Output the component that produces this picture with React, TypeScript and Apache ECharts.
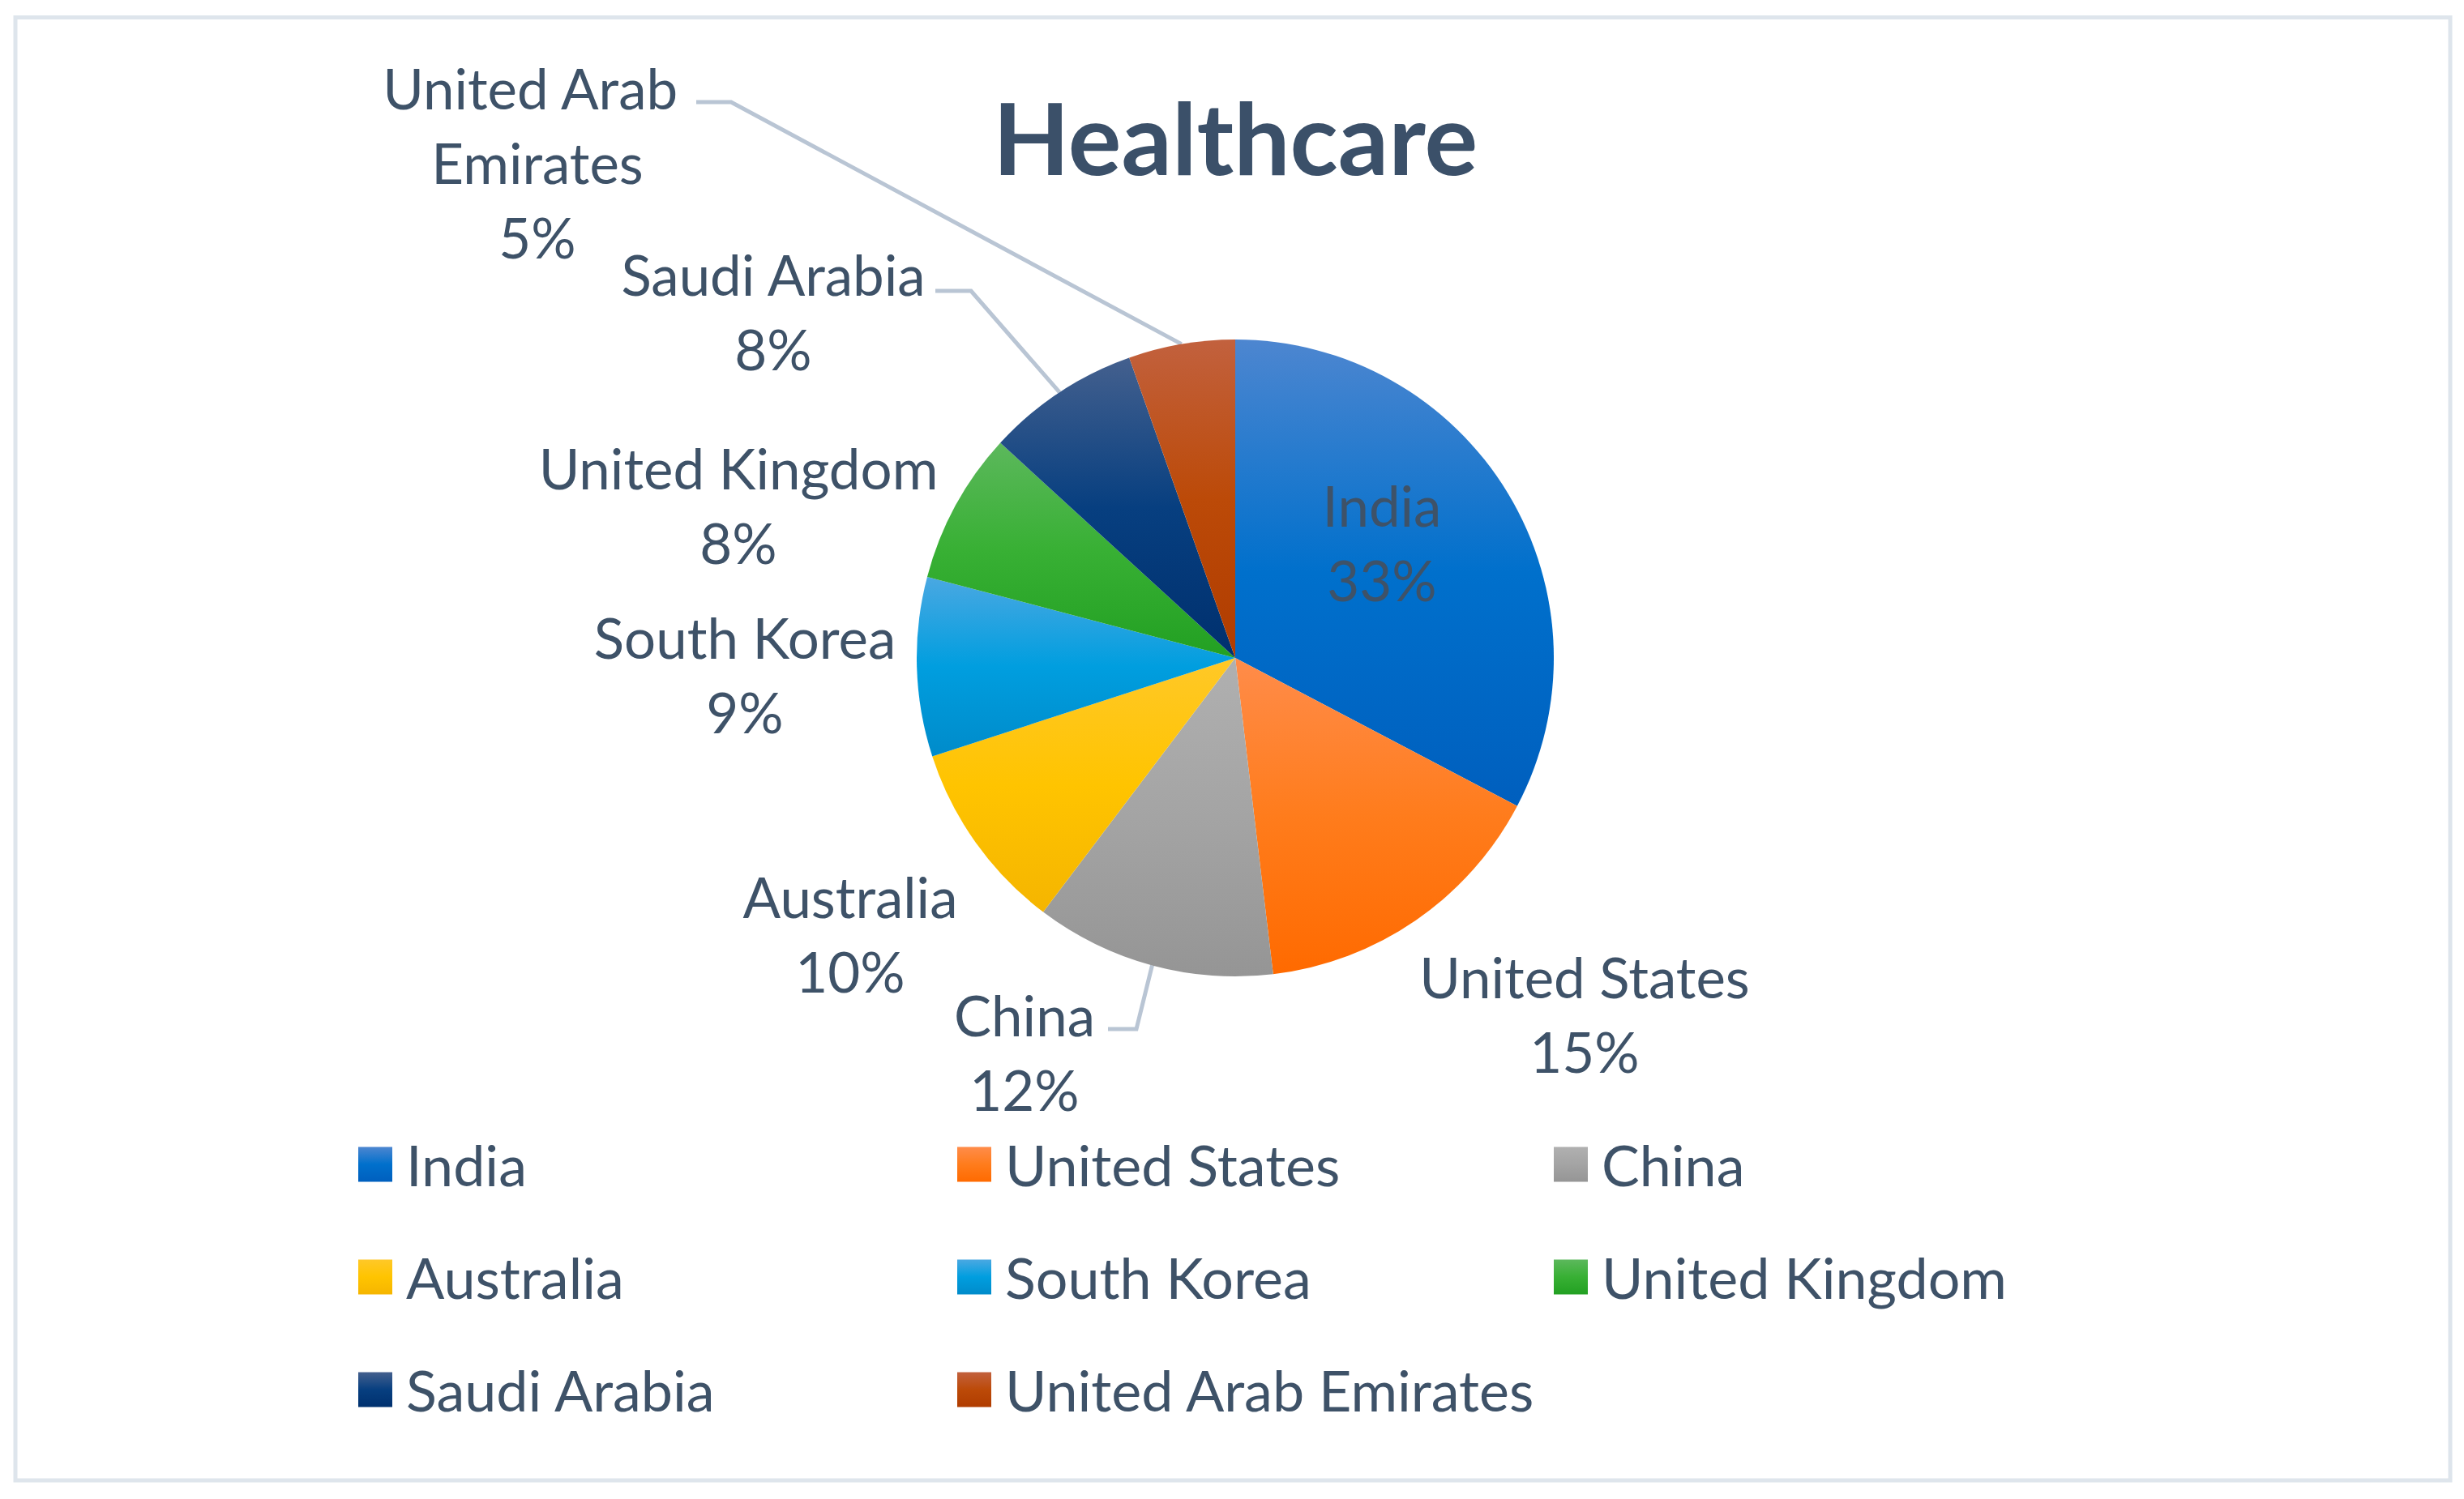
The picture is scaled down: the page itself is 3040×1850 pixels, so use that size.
import React, { useEffect, useRef } from "react";
import * as echarts from "echarts";

// ---------- data ----------
const categories = [
  "India",
  "United States",
  "China",
  "Australia",
  "South Korea",
  "United Kingdom",
  "Saudi Arabia",
  "United Arab Emirates",
];
const shares = [32.7, 15.4, 12.2, 9.7, 9.1, 7.7, 7.8, 5.4];
const legendColumns = [
  ["India", "Australia", "Saudi Arabia"],
  ["United States", "South Korea", "United Arab Emirates"],
  ["China", "United Kingdom"],
];
const titleText = "Healthcare";

// ---------- styles / layout ----------
const W = 3040;
const H = 1850;
const CX = 1524;
const CY = 812;
const R = 393;
const FONT = "Lato";
const TEXT_COLOR = "#3e5268";
const LEADER_COLOR = "#b9c5d4";

// light / base / dark gradient stops per slice
const sliceColors = [
  ["#4d86d0", "#0070cc", "#005fbe"],
  ["#ff8c4a", "#ff7c1c", "#ff6a00"],
  ["#b0b0b0", "#a4a4a4", "#959595"],
  ["#ffc828", "#ffc400", "#f5b500"],
  ["#4aa8e2", "#009edf", "#008bca"],
  ["#5cb85c", "#38b034", "#22a022"],
  ["#44608e", "#073f80", "#00306e"],
  ["#c2613e", "#bc4a08", "#b03c00"],
];

// label block centres
const labelPos: [number, number][] = [
  [1705, 669],
  [1955, 1251],
  [1264, 1298],
  [1049, 1152],
  [919, 832],
  [911, 623],
  [954, 384],
  [663, 200],
];
// leader lines: [bend, end] (null = none)
const leaders: ([number, number][] | null)[] = [
  null,
  null,
  [
    [1402, 1270],
    [1367, 1270],
  ],
  null,
  null,
  null,
  [
    [1198, 359],
    [1154, 359],
  ],
  [
    [902, 126],
    [859, 126],
  ],
];
const labelWidths = [null, null, null, null, null, null, null, 440];

const LEGEND_X = [442, 1181, 1917];
const LEGEND_TOP = 1402;

export default function App() {
  const ref = useRef<HTMLDivElement>(null);

  useEffect(() => {
    if (!ref.current) return;
    const chart = echarts.init(ref.current, undefined, { renderer: "svg" });

    const total = shares.reduce((a, b) => a + b, 0);
    const midAngles: number[] = [];
    let acc = 0;
    shares.forEach((v) => {
      midAngles.push(((acc + v / 2) / total) * Math.PI * 2);
      acc += v;
    });

    const data = categories.map((name, i) => {
      const c = sliceColors[i];
      const item: any = {
        name,
        value: shares[i],
        itemStyle: {
          color: new echarts.graphic.LinearGradient(0, 0, 0, 1, [
            { offset: 0, color: c[0] },
            { offset: 0.5, color: c[1] },
            { offset: 1, color: c[2] },
          ]),
        },
        labelLine: { show: !!leaders[i] },
      };
      if (labelWidths[i]) {
        item.label = { width: labelWidths[i], overflow: "break" };
      }
      return item;
    });

    const option: any = {
      animation: false,
      backgroundColor: "#ffffff",
      graphic: [
        {
          type: "rect",
          shape: { x: 19, y: 21.5, width: 3004, height: 1805.5 },
          style: { fill: "transparent", stroke: "#dee5ec", lineWidth: 5 },
          silent: true,
        },
        {
          type: "text",
          x: 1524,
          y: 168,
          style: {
            text: titleText,
            fontFamily: FONT,
            fontWeight: "bold",
            fontSize: 123,
            fill: "#3b5069",
            align: "center",
            verticalAlign: "middle",
          },
          silent: true,
        },
      ],
      legend: legendColumns.map((col, k) => ({
        orient: "vertical",
        left: LEGEND_X[k],
        top: LEGEND_TOP,
        data: col,
        icon: "rect",
        itemWidth: 42,
        itemHeight: 43,
        itemGap: 69,
        padding: 0,
        selectedMode: false,
        textStyle: {
          fontFamily: FONT,
          fontSize: 70,
          color: TEXT_COLOR,
          lineHeight: 43,
          padding: [0, 0, 0, 12],
        },
      })),
      series: [
        {
          type: "pie",
          center: [CX, CY],
          radius: R,
          startAngle: 90,
          clockwise: true,
          avoidLabelOverlap: false,
          percentPrecision: 0,
          itemStyle: { borderWidth: 0 },
          emphasis: { disabled: true },
          label: {
            show: true,
            position: "outside",
            formatter: "{b}\n{d}%",
            fontFamily: FONT,
            fontSize: 69,
            lineHeight: 92,
            color: TEXT_COLOR,
            align: "center",
          },
          labelLine: {
            show: false,
            lineStyle: { color: LEADER_COLOR, width: 5 },
          },
          labelLayout: (params: any) => {
            const i = params.dataIndex;
            const p = labelPos[i];
            const res: any = {
              x: p[0],
              y: p[1],
              align: "center",
              verticalAlign: "middle",
            };
            const g = leaders[i];
            if (g) {
              const a = midAngles[i];
              const start = [CX + R * Math.sin(a), CY - R * Math.cos(a)];
              res.labelLinePoints = [start, g[0], g[1]];
            }
            return res;
          },
          data,
        },
      ],
    };

    chart.setOption(option);
    return () => chart.dispose();
  }, []);

  return (
    <div
      ref={ref}
      style={{ position: "absolute", left: 0, top: 0, width: W, height: H }}
    />
  );
}
